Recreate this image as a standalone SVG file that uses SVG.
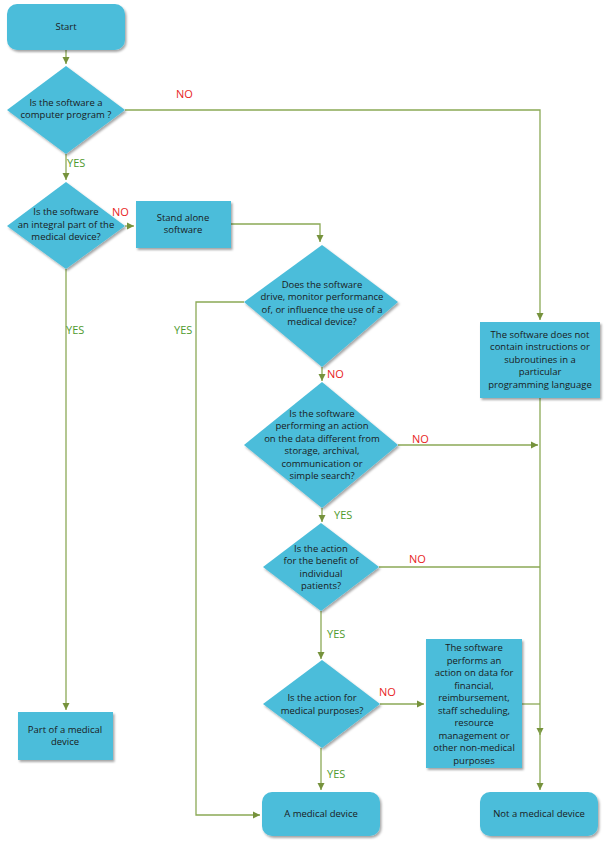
<svg xmlns="http://www.w3.org/2000/svg" width="606" height="848" viewBox="0 0 606 848">
<defs>
<filter id="sh" x="-10%" y="-10%" width="130%" height="130%"><feDropShadow dx="1.5" dy="2" stdDeviation="1.2" flood-color="#000" flood-opacity="0.35"/></filter>
<marker id="ar" markerWidth="8" markerHeight="8" refX="7" refY="4" orient="auto" markerUnits="userSpaceOnUse"><path d="M0,0.5 L7,4 L0,7.5 Z" fill="#76923C"/></marker>
<style>
.n{fill:#4BBDDA;filter:url(#sh)}
.t{font-family:"Open Sans","Noto Sans",sans-serif;font-size:9.5px;fill:#1a1a1a;text-anchor:middle}
.c{fill:none;stroke:#8BA956;stroke-width:1.3}
.no{font-family:"Open Sans","Noto Sans",sans-serif;font-size:11px;fill:#E8231E}
.yes{font-family:"Open Sans","Noto Sans",sans-serif;font-size:11px;fill:#4E9A2E}
</style>
</defs>
<rect width="606" height="848" fill="#fff"/>
<g id="connectors">
<path class="c" d="M66,50 V64" marker-end="url(#ar)"/>
<path class="c" d="M125,110 H540 V320" marker-end="url(#ar)"/>
<path class="c" d="M66,154 V180" marker-end="url(#ar)"/>
<path class="c" d="M125,226 H134" marker-end="url(#ar)"/>
<path class="c" d="M231,224 H320 V242" marker-end="url(#ar)"/>
<path class="c" d="M66,269 V710" marker-end="url(#ar)"/>
<path class="c" d="M244,302 H196 V815 H260" marker-end="url(#ar)"/>
<path class="c" d="M322,367 V381" marker-end="url(#ar)"/>
<path class="c" d="M398,445 H538" marker-end="url(#ar)"/>
<path class="c" d="M322,508 V522" marker-end="url(#ar)"/>
<path class="c" d="M379,567 H540"/>
<path class="c" d="M321,611 V659" marker-end="url(#ar)"/>
<path class="c" d="M380,704 H424" marker-end="url(#ar)"/>
<path class="c" d="M522,704 H540"/>
<path class="c" d="M540,398 V735" marker-end="url(#ar)"/>
<path class="c" d="M540,730 V790" marker-end="url(#ar)"/>
<path class="c" d="M321,748 V790" marker-end="url(#ar)"/>
</g>
<g id="labels">
<text class="no" x="176" y="98">NO</text>
<text class="yes" x="67" y="167">YES</text>
<text class="no" x="112" y="216">NO</text>
<text class="yes" x="66" y="334">YES</text>
<text class="yes" x="174" y="334">YES</text>
<text class="no" x="327" y="378">NO</text>
<text class="no" x="412" y="443">NO</text>
<text class="yes" x="334" y="519">YES</text>
<text class="no" x="409" y="563">NO</text>
<text class="yes" x="327" y="638">YES</text>
<text class="no" x="379" y="696">NO</text>
<text class="yes" x="327" y="778">YES</text>
</g>
<g id="start"><rect class="n" x="7" y="4" width="118" height="46" rx="10"/><text class="t" x="66" y="30">Start</text></g>
<g id="d1"><polygon class="n" points="66,66 125,110 66,154 7,110"/><text class="t" x="66" y="106">Is the software a</text><text class="t" x="66" y="118">computer program ?</text></g>
<g id="d2"><polygon class="n" points="66,182 125,226 66,269 7,226"/><text class="t" x="66" y="215">Is the software</text><text class="t" x="66" y="228">an integral part of the</text><text class="t" x="66" y="240">medical device?</text></g>
<g id="standalone"><rect class="n" x="136" y="201" width="95" height="47"/><text class="t" x="183" y="221">Stand alone</text><text class="t" x="183" y="233">software</text></g>
<g id="d3"><polygon class="n" points="322,245 398,302 322,367 244,302"/><text class="t" x="322" y="288">Does the software</text><text class="t" x="322" y="300">drive, monitor performance</text><text class="t" x="322" y="313">of, or influence the use of a</text><text class="t" x="322" y="325">medical device?</text></g>
<g id="noprogram"><rect class="n" x="480" y="322" width="120" height="76"/><text class="t" x="540" y="338">The software does not</text><text class="t" x="540" y="350">contain instructions or</text><text class="t" x="540" y="363">subroutines in a</text><text class="t" x="540" y="375">particular</text><text class="t" x="540" y="388">programming language</text></g>
<g id="d4"><polygon class="n" points="322,382 398,445 322,508 244,445"/><text class="t" x="322" y="417">Is the software</text><text class="t" x="322" y="429">performing an action</text><text class="t" x="322" y="442">on the data different from</text><text class="t" x="322" y="454">storage, archival,</text><text class="t" x="322" y="467">communication or</text><text class="t" x="322" y="479">simple search?</text></g>
<g id="d5"><polygon class="n" points="321,523 379,567 321,611 263,567"/><text class="t" x="321" y="552">Is the action</text><text class="t" x="321" y="564">for the benefit of</text><text class="t" x="321" y="577">individual</text><text class="t" x="321" y="589">patients?</text></g>
<g id="d6"><polygon class="n" points="322,660 380,704 322,748 263,704"/><text class="t" x="322" y="701">Is the action for</text><text class="t" x="322" y="714">medical purposes?</text></g>
<g id="nonmedical"><rect class="n" x="426" y="639" width="96" height="129"/><text class="t" x="474" y="651">The software</text><text class="t" x="474" y="664">performs an</text><text class="t" x="474" y="676">action on data for</text><text class="t" x="474" y="689">financial,</text><text class="t" x="474" y="701">reimbursement,</text><text class="t" x="474" y="714">staff scheduling,</text><text class="t" x="474" y="726">resource</text><text class="t" x="474" y="739">management or</text><text class="t" x="474" y="751">other non-medical</text><text class="t" x="474" y="764">purposes</text></g>
<g id="part"><rect class="n" x="18" y="712" width="95" height="48"/><text class="t" x="65" y="733">Part of a medical</text><text class="t" x="65" y="745">device</text></g>
<g id="medical"><rect class="n" x="262" y="792" width="118" height="44" rx="10"/><text class="t" x="321" y="817">A medical device</text></g>
<g id="notmedical"><rect class="n" x="480" y="792" width="118" height="44" rx="10"/><text class="t" x="539" y="817">Not a medical device</text></g>
</svg>
